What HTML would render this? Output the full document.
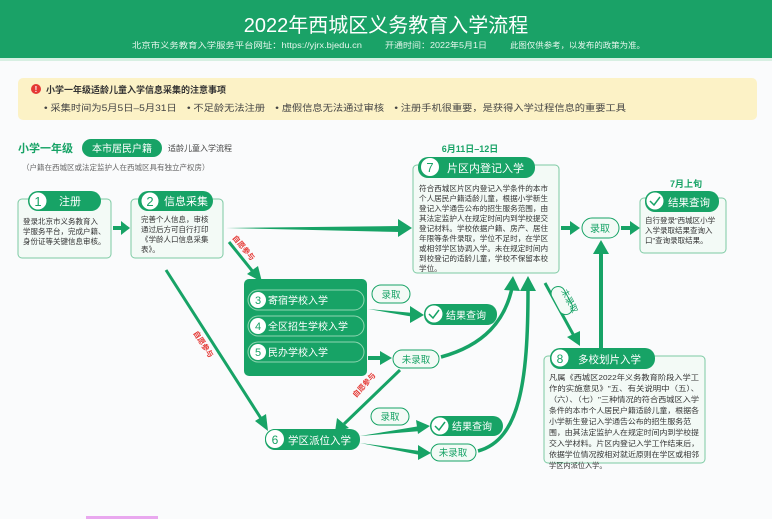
<!DOCTYPE html>
<html><head><meta charset="utf-8"><style>
html,body{margin:0;padding:0;background:#fafbfc;}
svg{display:block;font-family:"Liberation Sans","Noto Sans CJK SC",sans-serif;}
</style></head><body>
<svg width="772" height="519" viewBox="0 0 772 519" xmlns="http://www.w3.org/2000/svg">
<rect width="772" height="519" fill="#fafbfc"/>
<!-- header -->
<rect x="0" y="0" width="772" height="58" fill="#1aa267"/>
<rect x="0" y="58" width="772" height="3" fill="#d7efe2"/>
<text x="386" y="32" fill="#fff" font-size="20" text-anchor="middle">2022年西城区义务教育入学流程</text>
<text x="132" y="48" fill="#e8f7ee" font-size="8" textLength="230" lengthAdjust="spacingAndGlyphs">北京市义务教育入学服务平台网址：https://yjrx.bjedu.cn</text>
<text x="385" y="48" fill="#e8f7ee" font-size="8" textLength="102" lengthAdjust="spacingAndGlyphs">开通时间：2022年5月1日</text>
<text x="510" y="48" fill="#e8f7ee" font-size="8" textLength="135" lengthAdjust="spacingAndGlyphs">此图仅供参考，以发布的政策为准。</text>
<!-- notice -->
<rect x="18" y="78" width="739" height="42" rx="5" fill="#fcf2c6"/>
<circle cx="36" cy="89" r="5" fill="#e53935"/><text x="36" y="92" fill="#fff" font-size="8" text-anchor="middle" font-weight="bold">!</text>
<text x="46" y="93" fill="#333" font-size="9" font-weight="bold">小学一年级适龄儿童入学信息采集的注意事项</text>
<text x="44" y="111" fill="#444" font-size="9" textLength="582" lengthAdjust="spacingAndGlyphs">• 采集时间为5月5日–5月31日　• 不足龄无法注册　• 虚假信息无法通过审核　• 注册手机很重要，是获得入学过程信息的重要工具</text>
<!-- title row -->
<text x="18" y="152" fill="#17a366" font-size="11" font-weight="bold">小学一年级</text>
<rect x="82" y="139" width="80" height="18" rx="9" fill="#17a366"/>
<text x="122" y="152" fill="#fff" font-size="10" text-anchor="middle">本市居民户籍</text>
<text x="168" y="151" fill="#444" font-size="8">适龄儿童入学流程</text>
<text x="22" y="170" fill="#666" font-size="7.5">（户籍在西城区或法定监护人在西城区具有独立产权房）</text>
<!-- box1 -->
<rect x="18" y="199" width="93" height="59" rx="4" fill="#f3faf6" stroke="#7ccaa3"/>
<rect x="28" y="191" width="73" height="20" rx="10" fill="#17a366"/>
<circle cx="38" cy="201" r="9" fill="#fff" stroke="#17a366"/><text x="38" y="206" fill="#17a366" font-size="13" text-anchor="middle">1</text>
<text x="70" y="205" fill="#fff" font-size="11" text-anchor="middle">注册</text>
<g font-size="7.5" fill="#333"><text x="23" y="224">登录北京市义务教育入</text><text x="23" y="234">学服务平台，完成户籍、</text><text x="23" y="244">身份证等关键信息审核。</text></g>
<path d="M113,228 L123,228" stroke="#17a366" stroke-width="4"/><path d="M121,221 L130,228 L121,235z" fill="#17a366"/>
<!-- box2 -->
<rect x="131" y="199" width="92" height="59" rx="4" fill="#f3faf6" stroke="#7ccaa3"/>
<rect x="138" y="191" width="75" height="20" rx="10" fill="#17a366"/>
<circle cx="150" cy="201" r="9" fill="#fff" stroke="#17a366"/><text x="150" y="206" fill="#17a366" font-size="13" text-anchor="middle">2</text>
<text x="186" y="205" fill="#fff" font-size="11" text-anchor="middle">信息采集</text>
<g font-size="7.5" fill="#333"><text x="141" y="222">完善个人信息，审核</text><text x="141" y="232">通过后方可自行打印</text><text x="141" y="242">《学龄人口信息采集</text><text x="141" y="252">表》。</text></g>
<!-- long arrow 2->7 -->
<path d="M226,228 L400,226 L400,232 z" fill="#17a366"/><path d="M398,219 L412,228 L398,237z" fill="#17a366"/>
<!-- 2 -> group -->
<path d="M229,242 L254,273" stroke="#17a366" stroke-width="3"/><path d="M247,274 L262,282 L258,266z" fill="#17a366"/>
<text x="0" y="0" fill="#e53935" font-size="7.5" font-weight="bold" transform="translate(232,238) rotate(50)">自愿参与</text>
<!-- 2 -> 6 long -->
<path d="M166,270 L262,420" stroke="#17a366" stroke-width="3"/><path d="M255,421 L268,431 L266,414z" fill="#17a366"/>
<text x="0" y="0" fill="#e53935" font-size="7.5" font-weight="bold" transform="translate(193,333) rotate(57)">自愿参与</text>
<!-- box7 -->
<text x="470" y="152" fill="#17a366" font-size="9" font-weight="bold" text-anchor="middle">6月11日–12日</text>
<rect x="413" y="165" width="146" height="108" rx="4" fill="#f3faf6" stroke="#7ccaa3"/>
<rect x="418" y="157" width="117" height="21" rx="10" fill="#17a366"/>
<circle cx="430" cy="167" r="9.5" fill="#fff" stroke="#17a366"/><text x="430" y="172" fill="#17a366" font-size="13" text-anchor="middle">7</text>
<text x="447" y="172" fill="#fff" font-size="11">片区内登记入学</text>
<g font-size="7.6" fill="#333"><text x="419" y="191">符合西城区片区内登记入学条件的本市</text><text x="419" y="201">个人居民户籍适龄儿童，根据小学新生</text><text x="419" y="211">登记入学通告公布的招生服务范围，由</text><text x="419" y="221">其法定监护人在规定时间内到学校提交</text><text x="419" y="231">登记材料。学校依据户籍、房产、居住</text><text x="419" y="241">年限等条件录取，学位不足时，在学区</text><text x="419" y="251">或相邻学区协调入学。未在规定时间内</text><text x="419" y="261">到校登记的适龄儿童，学校不保留本校</text><text x="419" y="271">学位。</text></g>
<!-- 7 -> 录取 -->
<path d="M561,228 L572,228" stroke="#17a366" stroke-width="4"/><path d="M570,221 L580,228 L570,235z" fill="#17a366"/>
<rect x="582" y="218" width="37" height="20" rx="10" fill="#f3faf6" stroke="#17a366"/>
<text x="600" y="232" fill="#17a366" font-size="10" text-anchor="middle">录取</text>
<path d="M621,228 L632,228" stroke="#17a366" stroke-width="4"/><path d="M630,221 L640,228 L630,235z" fill="#17a366"/>
<!-- result box -->
<text x="686" y="187" fill="#17a366" font-size="9" font-weight="bold" text-anchor="middle">7月上旬</text>
<rect x="640" y="198" width="86" height="55" rx="4" fill="#f3faf6" stroke="#7ccaa3"/>
<rect x="645" y="191" width="74" height="21" rx="10" fill="#17a366"/>
<circle cx="655" cy="201" r="9" fill="#fff" stroke="#17a366"/><path d="M650,201 L654,205 L660,197" stroke="#17a366" stroke-width="1.5" fill="none"/>
<text x="668" y="206" fill="#fff" font-size="10.5">结果查询</text>
<g font-size="7.5" fill="#333"><text x="645" y="223">自行登录"西城区小学</text><text x="645" y="233">入学录取结果查询入</text><text x="645" y="243">口"查询录取结果。</text></g>
<!-- vertical from 8 to 录取 -->
<path d="M601,348 L601,252" stroke="#17a366" stroke-width="4"/><path d="M593,254 L601,240 L609,254z" fill="#17a366"/>
<!-- 7 -> 8 未录取 -->
<path d="M545,283 L574,336" stroke="#17a366" stroke-width="3"/><path d="M567,337 L580,346 L580,331z" fill="#17a366"/>
<rect x="0" y="0" width="30" height="14" rx="7" fill="#f3faf6" stroke="#17a366" transform="translate(561,284) rotate(62)"/>
<text x="0" y="0" fill="#17a366" font-size="8.5" transform="translate(561,291) rotate(62)">未录取</text>
<!-- group 3-5 -->
<rect x="244" y="279" width="123" height="97" rx="5" fill="#17a366"/>
<g fill="none" stroke="#8fd6b1"><rect x="248" y="290" width="116" height="20" rx="10"/><rect x="248" y="316" width="116" height="20" rx="10"/><rect x="248" y="342" width="116" height="20" rx="10"/></g>
<g fill="#fff"><circle cx="258" cy="300" r="8"/><circle cx="258" cy="326" r="8"/><circle cx="258" cy="352" r="8"/></g>
<g fill="#17a366" font-size="11" text-anchor="middle"><text x="258" y="304">3</text><text x="258" y="330">4</text><text x="258" y="356">5</text></g>
<g fill="#fff" font-size="10"><text x="268" y="304">寄宿学校入学</text><text x="268" y="330">全区招生学校入学</text><text x="268" y="356">民办学校入学</text></g>
<!-- 录取 1 -->
<rect x="372" y="285" width="38" height="18" rx="9" fill="#f3faf6" stroke="#17a366"/>
<text x="391" y="298" fill="#17a366" font-size="9.5" text-anchor="middle">录取</text>
<path d="M368,309 L414,313 L414,317z" fill="#17a366"/><path d="M410,306 L424,315 L410,323z" fill="#17a366"/>
<rect x="424" y="304" width="73" height="21" rx="10" fill="#17a366"/>
<circle cx="434" cy="314" r="9" fill="#fff" stroke="#17a366"/><path d="M429,314 L433,318 L439,310" stroke="#17a366" stroke-width="1.5" fill="none"/>
<text x="446" y="319" fill="#fff" font-size="10">结果查询</text>
<!-- 未录取 1 -->
<path d="M368,358 L382,358" stroke="#17a366" stroke-width="4"/><path d="M380,351 L392,358 L380,365z" fill="#17a366"/>
<rect x="393" y="350" width="46" height="18" rx="9" fill="#f3faf6" stroke="#17a366"/>
<text x="416" y="363" fill="#17a366" font-size="9.5" text-anchor="middle">未录取</text>
<path d="M441,357 C485,345 505,320 512,288" stroke="#17a366" stroke-width="3.5" fill="none"/>
<path d="M504,290 L513,276 L520,291z" fill="#17a366"/>
<!-- 未录取 -> 6 -->
<path d="M400,370 L344,424" stroke="#17a366" stroke-width="3"/><path d="M337,418 L335,432 L349,428z" fill="#17a366"/>
<text x="0" y="0" fill="#e53935" font-size="7.5" font-weight="bold" transform="translate(356,398) rotate(-48)">自愿参与</text>
<!-- 6 -->
<rect x="265" y="429" width="95" height="21" rx="10" fill="#17a366"/>
<circle cx="275" cy="439" r="9.5" fill="#fff" stroke="#17a366"/><text x="275" y="444" fill="#17a366" font-size="12" text-anchor="middle">6</text>
<text x="288" y="444" fill="#fff" font-size="10.5">学区派位入学</text>
<!-- 录取 2 -->
<rect x="371" y="408" width="38" height="17" rx="8.5" fill="#f3faf6" stroke="#17a366"/>
<text x="390" y="420" fill="#17a366" font-size="9.5" text-anchor="middle">录取</text>
<path d="M360,436 L420,426 L421,431z" fill="#17a366"/><path d="M416,420 L430,426 L418,434z" fill="#17a366"/>
<path d="M360,443 L420,451 L420,455z" fill="#17a366"/><path d="M418,445 L431,453 L418,460z" fill="#17a366"/>
<rect x="430" y="416" width="73" height="20" rx="10" fill="#17a366"/>
<circle cx="440" cy="426" r="9" fill="#fff" stroke="#17a366"/><path d="M435,426 L439,430 L445,422" stroke="#17a366" stroke-width="1.5" fill="none"/>
<text x="452" y="430" fill="#fff" font-size="10">结果查询</text>
<rect x="431" y="444" width="45" height="17" rx="8.5" fill="#f3faf6" stroke="#17a366"/>
<text x="453" y="456" fill="#17a366" font-size="9.5" text-anchor="middle">未录取</text>
<path d="M478,451 C520,440 528,380 528,290" stroke="#17a366" stroke-width="3.5" fill="none"/>
<path d="M520,291 L528,276 L536,291z" fill="#17a366"/>
<!-- box8 -->
<rect x="544" y="356" width="161" height="107" rx="4" fill="#f3faf6" stroke="#7ccaa3"/>
<rect x="550" y="348" width="105" height="21" rx="10" fill="#17a366"/>
<circle cx="560" cy="358" r="9" fill="#fff" stroke="#17a366"/><text x="560" y="363" fill="#17a366" font-size="12" text-anchor="middle">8</text>
<text x="578" y="363" fill="#fff" font-size="10.5">多校划片入学</text>
<g font-size="7.2" fill="#333"><text x="549" y="380" textLength="150" lengthAdjust="spacingAndGlyphs">凡属《西城区2022年义务教育阶段入学工</text><text x="549" y="391" textLength="150" lengthAdjust="spacingAndGlyphs">作的实施意见》"五、有关说明中（五）、</text><text x="549" y="402" textLength="150" lengthAdjust="spacingAndGlyphs">（六）、（七）"三种情况的符合西城区入学</text><text x="549" y="413" textLength="150" lengthAdjust="spacingAndGlyphs">条件的本市个人居民户籍适龄儿童，根据各</text><text x="549" y="424" textLength="142" lengthAdjust="spacingAndGlyphs">小学新生登记入学通告公布的招生服务范</text><text x="549" y="435" textLength="150" lengthAdjust="spacingAndGlyphs">围，由其法定监护人在规定时间内到学校提</text><text x="549" y="446" textLength="150" lengthAdjust="spacingAndGlyphs">交入学材料。片区内登记入学工作结束后，</text><text x="549" y="457" textLength="150" lengthAdjust="spacingAndGlyphs">依据学位情况按相对就近原则在学区或相邻</text><text x="549" y="468">学区内派位入学。</text></g>
<rect x="86" y="516" width="72" height="3" fill="#e9a8ef"/>
</svg>
</body></html>
